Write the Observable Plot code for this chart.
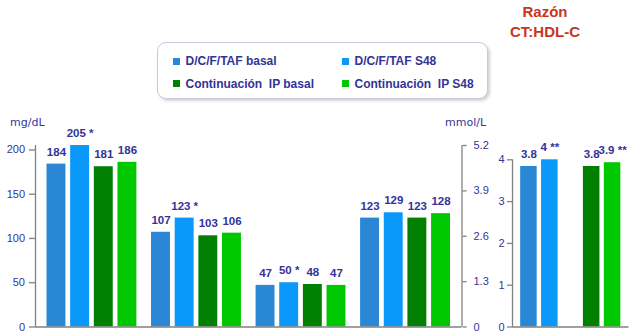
<!DOCTYPE html>
<html><head><meta charset="utf-8">
<script src="https://cdn.jsdelivr.net/npm/d3@7"></script>
<script src="https://cdn.jsdelivr.net/npm/@observablehq/plot@0.6"></script>
<style>
html,body{margin:0;padding:0;background:#fff;}
#wrap{position:relative;width:633px;height:335px;overflow:hidden;font-family:"Liberation Sans",Arial,sans-serif;}
#wrap svg{position:absolute;left:0;top:0;}
.unit{position:absolute;font-family:"DejaVu Sans",sans-serif;font-size:11px;color:#333399;line-height:1;}
#title{position:absolute;left:495px;width:100px;top:2px;text-align:center;color:#c8361d;font-weight:bold;font-size:15px;line-height:19.5px;}
#legend{position:absolute;left:157px;top:42px;width:329px;height:55px;border:1px solid #c9c9de;border-radius:9px;box-shadow:2px 2px 3px rgba(0,0,0,0.18);background:#fff;}
.li{position:absolute;font-weight:bold;font-size:12px;color:#333399;white-space:pre;line-height:1;}
.sw{position:absolute;width:7px;height:7px;}
</style></head>
<body><div id="wrap"></div>
<script>
// ---- data ----
const groups = ["CT", "LDL-C", "HDL-C", "TG"];
const series = ["D/C/F/TAF basal", "D/C/F/TAF S48", "Continuación  IP basal", "Continuación  IP S48"];
const colors = ["#2a87d6", "#0a98fb", "#007f00", "#00c800"];
const dcfBasal = [184, 107, 47, 123];
const dcfS48 = [205, 123, 50, 129];
const ipBasal = [181, 103, 48, 123];
const ipS48 = [186, 106, 47, 128];
const dcfBasalSig = ["", "", "", ""];
const dcfS48Sig = ["*", "*", "*", ""];
const ipBasalSig = ["", "", "", ""];
const ipS48Sig = ["", "", "", ""];
const mgTicks = [0, 50, 100, 150, 200];
const mmolTicks = [0, 1.3, 2.6, 3.9, 5.2];
const ratioValues = [3.84, 4.0, 3.84, 3.93];
const ratioLabels = ["3.8", "4", "3.8", "3.9"];
const ratioSig = ["", "**", "", "**"];
const ratioTicks = [0, 1, 2, 3, 4];
const titleLines = ["Razón", "CT:HDL-C"];
const unitLeft = "mg/dL", unitRight = "mmol/L";

// ---- tables ----
const allVals = [dcfBasal, dcfS48, ipBasal, ipS48];
const allSig = [dcfBasalSig, dcfS48Sig, ipBasalSig, ipS48Sig];
const rows = [];
groups.forEach((g, gi) => series.forEach((s, si) => {
  const v = allVals[si][gi], sg = allSig[si][gi];
  rows.push({group: g, series: s, value: v, label: sg ? v + " " + sg : String(v)});
}));
const ratioRows = series.map((s, i) => ({series: s, value: ratioValues[i], label: ratioSig[i] ? ratioLabels[i] + " " + ratioSig[i] : ratioLabels[i]}));

// ---- layout ----
const W = 633, H = 335;
const yMax = 205;
const NAVY = "#333399", GRAY = "#808080";
const baseStyle = {background: "transparent", overflow: "visible", fontFamily: "Liberation Sans, Arial, sans-serif", fontSize: "11px"};
const wrap = document.getElementById("wrap");

const LM = {width: W, height: H, marginLeft: 35, marginRight: W - 461.5, marginTop: 145, marginBottom: 8.5, style: baseStyle};

const leftBars = Plot.plot({
  ...LM,
  fx: {domain: groups, paddingInner: 0.14, paddingOuter: 0.11, round: false, axis: null, label: null},
  x: {domain: series, paddingInner: 0.2, paddingOuter: 0, round: false, axis: null},
  y: {domain: [0, yMax], axis: null},
  color: {domain: series, range: colors},
  marks: [
    Plot.barY(rows, {fx: "group", x: "series", y: "value", fill: "series"}),
    Plot.text(rows, {fx: "group", x: "series", y: "value", text: "label", dy: -12, fill: NAVY, fontWeight: "bold", fontSize: 11.5})
  ]
});

const k = yMax / mmolTicks[mmolTicks.length - 1];
const leftAxes = Plot.plot({
  ...LM,
  x: {domain: [0, 1], axis: null},
  y: {domain: [0, yMax], axis: null},
  marks: [
    Plot.ruleY([0], {stroke: GRAY, strokeWidth: 1.3}),
    Plot.ruleX([0], {y1: 0, y2: yMax, stroke: GRAY, strokeWidth: 1.3}),
    Plot.ruleX([1], {y1: 0, y2: yMax, stroke: GRAY, strokeWidth: 1.3}),
    Plot.axisY(mgTicks, {anchor: "left", text: null, tickSize: 6, stroke: GRAY, strokeWidth: 1.3, label: null}),
    Plot.axisY(mgTicks, {anchor: "left", tickSize: 0, tickPadding: 10.5, fill: NAVY, fontSize: 11, label: null}),
    Plot.axisY(mmolTicks.map(v => v * k), {anchor: "right", text: null, tickSize: 4, stroke: GRAY, strokeWidth: 1.3, label: null}),
    Plot.axisY(mmolTicks.map(v => v * k), {anchor: "right", tickSize: 0, tickPadding: 11.5, fill: NAVY, fontSize: 11, label: null,
      tickFormat: d => String(Math.round(d / k * 10) / 10)})
  ]
});

const RM = {width: W, height: H, marginLeft: 512, marginRight: W - 628.5, marginTop: 159.3, marginBottom: 8.5, style: baseStyle};
const rightBars = Plot.plot({
  ...RM,
  x: {domain: [series[0], series[1], " ", series[2], series[3]], paddingInner: 0.21, paddingOuter: 0.39, round: false, axis: null},
  y: {domain: [0, 4], axis: null},
  color: {domain: series, range: colors},
  marks: [
    Plot.barY(ratioRows, {x: "series", y: "value", fill: "series"}),
    Plot.text(ratioRows, {x: "series", y: "value", text: "label", dy: -12, fill: NAVY, fontWeight: "bold", fontSize: 11.5})
  ]
});
const rightAxes = Plot.plot({
  ...RM,
  x: {domain: [0, 1], axis: null},
  y: {domain: [0, 4], axis: null},
  marks: [
    Plot.ruleY([0], {stroke: GRAY, strokeWidth: 1.3}),
    Plot.ruleX([0], {y1: 0, y2: 4, stroke: GRAY, strokeWidth: 1.3}),
    Plot.axisY(ratioTicks, {anchor: "left", text: null, tickSize: 5, stroke: GRAY, strokeWidth: 1.3, label: null}),
    Plot.axisY(ratioTicks, {anchor: "left", tickSize: 0, tickPadding: 8, fill: NAVY, fontSize: 11, label: null})
  ]
});
[leftBars, leftAxes, rightBars, rightAxes].forEach(p => wrap.appendChild(p));

// ---- text overlays ----
const u1 = document.createElement("div"); u1.className = "unit"; u1.textContent = unitLeft;
u1.style.left = "10px"; u1.style.top = "117px"; wrap.appendChild(u1);
const u2 = document.createElement("div"); u2.className = "unit"; u2.textContent = unitRight;
u2.style.left = "445px"; u2.style.top = "117px"; wrap.appendChild(u2);

const t = document.createElement("div"); t.id = "title";
t.innerHTML = titleLines.join("<br>"); wrap.appendChild(t);

const lg = document.createElement("div"); lg.id = "legend"; wrap.appendChild(lg);
const colX = [15, 184], rowY = [14.5, 37];
series.forEach((s, i) => {
  const cx = colX[i % 2], cy = rowY[Math.floor(i / 2)];
  const sw = document.createElement("div"); sw.className = "sw";
  sw.style.background = colors[i]; sw.style.left = cx + "px"; sw.style.top = cy + "px";
  lg.appendChild(sw);
  const tx = document.createElement("div"); tx.className = "li"; tx.textContent = s;
  tx.style.left = (cx + 12.5) + "px"; tx.style.top = (cy - 2.5) + "px";
  lg.appendChild(tx);
});
</script>
</body></html>
